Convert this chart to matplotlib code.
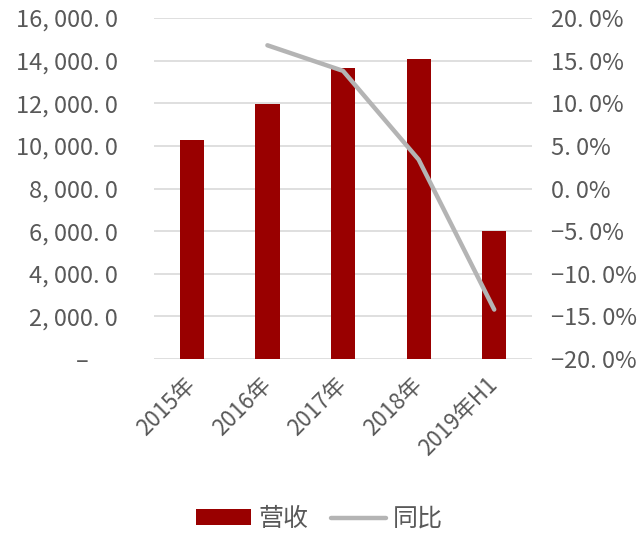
import matplotlib
matplotlib.use("Agg")
import matplotlib.pyplot as plt
from matplotlib.ticker import FuncFormatter

plt.rcParams['font.family'] = ['Noto Sans CJK SC', 'DejaVu Sans']

years = ['2015年', '2016年', '2017年', '2018年', '2019年H1']
revenue = [10260, 11950, 13650, 14070, 6020]
yoy = [None, 16.8, 13.8, 3.4, -14.2]

bar_color = '#990000'
line_color = '#b4b4b4'
text_color = '#595959'

fig = plt.figure(figsize=(6.39, 5.36), dpi=100)
ax = fig.add_axes([0.241, 0.3302, 0.5916, 0.6362])
ax2 = ax.twinx()

x = list(range(len(years)))
ax.bar(x, revenue, width=0.32, color=bar_color, label='营收', zorder=3)

xs = [i for i, v in zip(x, yoy) if v is not None]
ys = [v for v in yoy if v is not None]
ax2.plot(xs, ys, color=line_color, lw=3.2, solid_capstyle='round', label='同比', zorder=4)

ax.set_xlim(-0.5, 4.5)
ax.set_ylim(0, 16000)
ax.set_yticks(range(0, 16001, 2000))
ax2.set_ylim(-20, 20)
ax2.set_yticks(range(-20, 21, 5))

def money(v, pos):
    if v == 0:
        return '\u2013\u2003 '
    s = f'{v:,.1f}'
    return s.replace(',', ', ').replace('.', '. ')

def pct(v, pos):
    s = f'{abs(v):.1f}'.replace('.', '. ') + '%'
    return ('\u2212' + s) if v < 0 else s

ax.yaxis.set_major_formatter(FuncFormatter(money))
ax2.yaxis.set_major_formatter(FuncFormatter(pct))

ax.grid(axis='y', color='#d9d9d9', lw=1.2, zorder=0)
ax.set_axisbelow(True)
for a in (ax, ax2):
    for sp in a.spines.values():
        sp.set_visible(False)

ax.tick_params(axis='y', length=0, pad=26, labelsize=17, labelcolor=text_color)
ax2.tick_params(axis='y', length=0, pad=14, labelsize=17, labelcolor=text_color)
ax.tick_params(axis='x', length=0, pad=16, labelsize=16, labelcolor=text_color)
ax.set_xticks(x)
ax.set_xticklabels(years, rotation=45, ha='right', va='center', rotation_mode='anchor')

ax.set_zorder(ax2.get_zorder() - 1)
ax.patch.set_visible(False)

h1, l1 = ax.get_legend_handles_labels()
h2, l2 = ax2.get_legend_handles_labels()
fig.legend(h1 + h2, l1 + l2, loc='center', bbox_to_anchor=(0.5, 0.032), ncol=2,
           frameon=False, fontsize=18, labelcolor=text_color, handlelength=2.2,
           handleheight=0.55, handletextpad=0.3, columnspacing=0.9)

fig.savefig('out.png', dpi=100)
